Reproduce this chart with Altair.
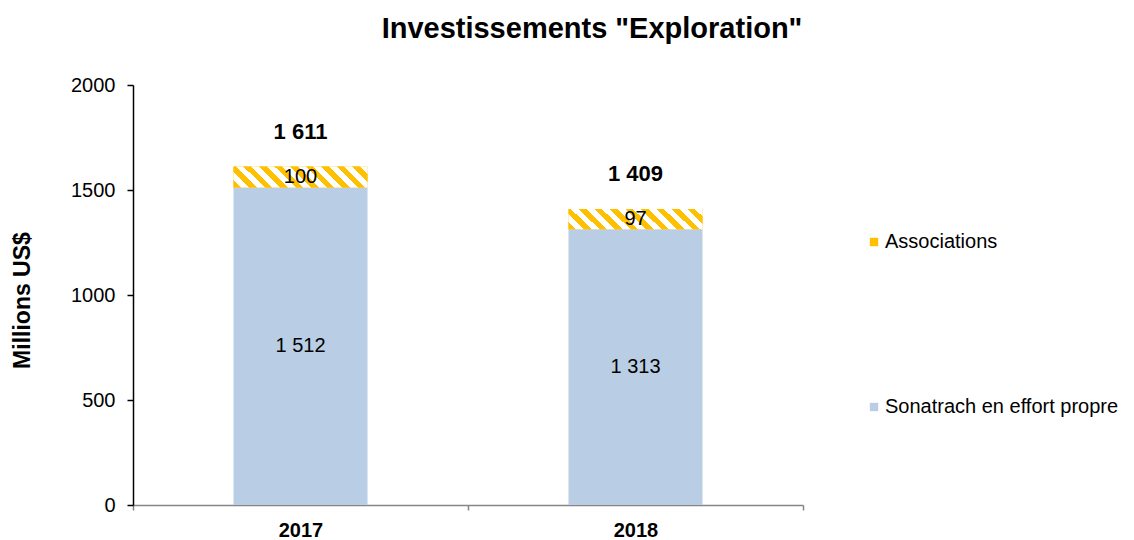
import altair as alt
import pandas as pd

years = ["2017", "2018"]
series = ["Sonatrach en effort propre", "Associations"]
sonatrach = [1512, 1313]
associations = [100, 97]
totals = [1611, 1409]
y_ticks = [0, 500, 1000, 1500, 2000]

YELLOW = "#FFC000"
BLUE = "#B9CDE5"
FONT = "Liberation Sans"

rows = []
for i, yr in enumerate(years):
    rows.append({"year": yr, "series": series[0], "value": sonatrach[i], "rank": 0})
    rows.append({"year": yr, "series": series[1], "value": associations[i], "rank": 1})
df = pd.DataFrame(rows)
tot_df = pd.DataFrame({"year": years, "total": totals})

# diagonal hatch as a hard-stop linear gradient
r = 0.157
s = (1 + r) / (1 + r * r)
periods = 10
stops = []
for k in range(periods):
    a = k / periods
    m = (k + 0.5) / periods
    b = (k + 1) / periods
    stops += [
        {"offset": a, "color": YELLOW},
        {"offset": m, "color": YELLOW},
        {"offset": m, "color": "#FFFFFF"},
        {"offset": b, "color": "#FFFFFF"},
    ]
hatch = {"gradient": "linear", "x1": 0, "y1": 1, "x2": s, "y2": 1 - s * r, "stops": stops}

base = alt.Chart(df).transform_stack(
    stack="value", groupby=["year"], as_=["start", "end"], sort=[alt.SortField("rank")]
).transform_calculate(
    mid="(datum.start + datum.end) / 2",
    label="replace(format(datum.value, ','), ',', ' ')",
)

xscale = alt.Scale(paddingInner=0, paddingOuter=0)
xenc = alt.X(
    "year:N",
    title=None,
    scale=xscale,
    axis=alt.Axis(
        labelAngle=0, labelFont=FONT, labelFontSize=20, labelFontWeight="bold",
        labelColor="#000000", labelPadding=10, labelBaseline="top",
        domainColor="#868686", tickColor="#868686",
        tickBand="extent", tickSize=5, domainWidth=1.5, tickWidth=1.5,
    ),
)
yscale = alt.Scale(domain=[0, 2000], nice=False)
barw = alt.RelativeBandSize(0.4)

bars = base.mark_bar(width=barw).encode(
    x=xenc,
    y=alt.Y(
        "start:Q",
        scale=yscale,
        title="Millions  US$",
        axis=alt.Axis(
            values=y_ticks, format="d", grid=False, labelFont=FONT, labelFontSize=20,
            labelColor="#000000", domainColor="#000000", tickColor="#000000", tickSize=6,
            labelPadding=12, titleFont=FONT, titleFontSize=23, titleFontWeight="bold",
            titleColor="#000000", titleX=-111, titleY=215, titleAngle=270,
            titleAlign="center", titleBaseline="middle", domainWidth=1.5, tickWidth=1.5,
        ),
    ),
    y2="end:Q",
    color=alt.Color(
        "series:N",
        scale=alt.Scale(domain=["Associations", "Sonatrach en effort propre"], range=[YELLOW, BLUE]),
        legend=alt.Legend(
            title=None, orient="none", legendX=731, legendY=147, rowPadding=145,
            symbolType="square", symbolSize=70, symbolStrokeWidth=0, labelFont=FONT,
            labelFontSize=20, labelColor="#000000", labelOffset=1, padding=0,
            labelLimit=400,
        ),
    ),
)

hatched = base.transform_filter(alt.datum.series == "Associations").mark_bar(
    fill=hatch, width=barw
).encode(x=alt.X("year:N", scale=xscale), y=alt.Y("start:Q", scale=yscale), y2="end:Q")

seg_text = base.mark_text(font=FONT, fontSize=20, color="#000000", baseline="middle").encode(
    x=alt.X("year:N", scale=xscale), y=alt.Y("mid:Q", scale=yscale), text="label:N"
)

tot_text = alt.Chart(tot_df).transform_calculate(
    label="replace(format(datum.total, ','), ',', ' ')"
).mark_text(font=FONT, fontSize=22, fontWeight="bold", color="#000000", baseline="middle", dy=-35).encode(
    x=alt.X("year:N", scale=xscale), y=alt.Y("total:Q", scale=yscale), text="label:N"
)

chart = alt.layer(bars, hatched, seg_text, tot_text).properties(
    width=670,
    height=420,
    background="#FFFFFF",
    autosize=alt.AutoSizeParams(type="none"),
    padding={"left": 125, "top": 77, "right": 323, "bottom": 35},
    title=alt.TitleParams(
        text='Investissements "Exploration"', font=FONT, fontSize=29, fontWeight="bold",
        color="#000000", anchor="middle", dx=124, offset=31,
    ),
).configure_view(stroke=None)

chart.save("out.html", embed_options={"renderer": "svg", "actions": False})
